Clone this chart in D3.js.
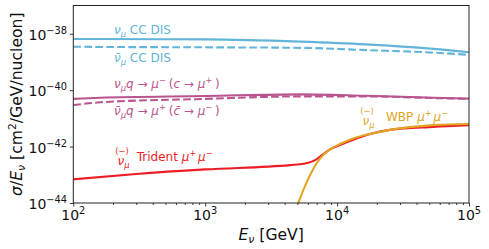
<!DOCTYPE html>
<html><head><meta charset="utf-8">
<script src="https://cdn.jsdelivr.net/npm/d3@7"></script>
<style>body{margin:0;background:#fff} text{font-family:"DejaVu Sans",sans-serif}</style>
</head><body><svg id="c" width="489" height="249"></svg>
<script>
// ---- data (sigma/E in cm^2/GeV/nucleon vs E in GeV) ----
const disEnergy  = [100, 160, 1000, 5250, 16600, 53700, 100000];
const ccNu       = [6.46e-39, 6.46e-39, 6.3e-39, 5.25e-39, 4.2e-39, 2.9e-39, 2.2e-39];
const ccNuBar    = [3.47e-39, 3.4e-39, 3.3e-39, 3.16e-39, 2.63e-39, 2.14e-39, 1.78e-39];
const charmNu    = [4.9e-41, 5.4e-41, 6.2e-41, 7.1e-41, 6.3e-41, 5.4e-41, 5.0e-41];
const charmNuBar = [2.95e-41, 3.7e-41, 4.9e-41, 6.0e-41, 6.0e-41, 5.25e-41, 4.9e-41];
const tridentEnergy = [100, 300, 1000, 4400, 5600, 6810, 7430, 8830, 10500, 14100, 17800, 25100, 53300, 100000];
const trident       = [6.9e-44, 1.07e-43, 1.55e-43, 2.2e-43, 2.45e-43, 3.3e-43, 4.4e-43, 7.9e-43, 1.14e-42, 1.95e-42, 2.8e-42, 3.9e-42, 5.0e-42, 5.75e-42];
const wbpEnergy = [4900, 5080, 5550, 6240, 7000, 7850, 9350, 10500, 14100, 18800, 25100, 53300, 100000];
const wbp       = [6.5e-45, 1e-44, 2.9e-44, 9.8e-44, 2.57e-43, 5.0e-43, 9.3e-43, 1.23e-42, 2.14e-42, 2.95e-42, 3.9e-42, 5.75e-42, 6.3e-42];
const xTicks = [1e2, 1e3, 1e4, 1e5];
const xTickExp = ['2', '3', '4', '5'];
const yTicks = [1e-44, 1e-42, 1e-40, 1e-38];
const yTickExp = ['\u221244', '\u221242', '\u221240', '\u221238'];

const C = {blue: '#62b4d9', purple: '#b9548e', red: '#ec1d25', orange: '#e1a425'};

const svg = d3.select('#c');
const L = 73.3, R = 469, T = 5.5, B = 203;
const x = d3.scaleLog().domain([1e2, 1e5]).range([L, R]);
const y = d3.scaleLog().domain([1e-44, 1e-37]).range([B, T]);

svg.append('defs').append('clipPath').attr('id', 'clip')
  .append('rect').attr('x', L).attr('y', T).attr('width', R - L).attr('height', B - T);

const line = d3.line().x(d => x(d[0])).y(d => y(d[1])).curve(d3.curveMonotoneX);
const plot = svg.append('g').attr('clip-path', 'url(#clip)');
function series(E, V, color, dash) {
  plot.append('path').datum(E.map((e, i) => [e, V[i]]))
    .attr('d', line).attr('fill', 'none').attr('stroke', color)
    .attr('stroke-width', 2.1).attr('stroke-dasharray', dash || null);
}
series(disEnergy, ccNu, C.blue);
series(disEnergy, ccNuBar, C.blue, '7.7,3.3');
series(disEnergy, charmNu, C.purple);
series(disEnergy, charmNuBar, C.purple, '7.7,3.3');
series(tridentEnergy, trident, C.red);
series(wbpEnergy, wbp, C.orange);

// ---- axes ----
const xMinor = [];
for (let d = 100; d < 1e5; d *= 10) for (let k = 2; k <= 9; k++) xMinor.push(d * k);
const gx = svg.append('g').attr('transform', `translate(0,${B})`);
gx.call(d3.axisBottom(x).tickValues(xTicks).tickSize(3.5).tickFormat(() => ''));
const gxm = svg.append('g').attr('transform', `translate(0,${B})`);
gxm.call(d3.axisBottom(x).tickValues(xMinor).tickSize(2).tickFormat(() => ''));
const gy = svg.append('g').attr('transform', `translate(${L},0)`);
gy.call(d3.axisLeft(y).tickValues(yTicks).tickSize(3.5).tickFormat(() => ''));
[gx, gxm, gy].forEach(g => { g.select('.domain').remove(); g.selectAll('line').attr('stroke', '#222').attr('stroke-width', 0.9); });

svg.append('rect').attr('x', L).attr('y', T).attr('width', R - L).attr('height', B - T)
  .attr('fill', 'none').attr('stroke', '#222').attr('stroke-width', 1);

const TF = 14;
xTicks.forEach((v, i) => {
  const t = svg.append('text').attr('x', x(v)).attr('y', 220).attr('text-anchor', 'middle')
    .attr('font-size', TF).attr('fill', '#111');
  t.append('tspan').text('10');
  t.append('tspan').attr('dy', -6).attr('font-size', TF * 0.7).text(xTickExp[i]);
});
yTicks.forEach((v, i) => {
  const t = svg.append('text').attr('x', 67).attr('y', y(v) + 6).attr('text-anchor', 'end')
    .attr('font-size', TF).attr('fill', '#111');
  t.append('tspan').text('10');
  t.append('tspan').attr('dy', -6).attr('font-size', TF * 0.7).text(yTickExp[i]);
});

// axis labels
const AF = 15.6;
const xl = svg.append('text').attr('x', (L + R) / 2).attr('y', 240).attr('text-anchor', 'middle')
  .attr('font-size', AF).attr('fill', '#111');
xl.append('tspan').attr('font-style', 'italic').text('E');
xl.append('tspan').attr('font-style', 'italic').attr('dy', 3).attr('font-size', AF * 0.7).text('\u03bd');
xl.append('tspan').attr('dy', -3).text(' [GeV]');

const yl = svg.append('text').attr('transform', `translate(22,${(T + B) / 2}) rotate(-90)`)
  .attr('text-anchor', 'middle').attr('font-size', AF).attr('fill', '#111');
yl.append('tspan').attr('font-style', 'italic').text('\u03c3');
yl.append('tspan').text('/');
yl.append('tspan').attr('font-style', 'italic').text('E');
yl.append('tspan').attr('font-style', 'italic').attr('dy', 3).attr('font-size', AF * 0.7).text('\u03bd');
yl.append('tspan').attr('dy', -3).text(' [cm');
yl.append('tspan').attr('dy', -6).attr('font-size', AF * 0.7).text('2');
yl.append('tspan').attr('dy', 6).text('/GeV/nucleon]');

// ---- annotations ----
const NF = 12;
function rich(xp, yp, color, parts) {
  const t = svg.append('text').attr('x', xp).attr('y', yp).attr('font-size', NF).attr('fill', color);
  let cur = 0;
  parts.forEach(p => {
    const target = p.sub ? 3 : p.sup ? -5 : 0;
    const s = t.append('tspan').attr('dy', target - cur).text(p.t);
    cur = target;
    if (p.sub || p.sup) s.attr('font-size', NF * 0.7);
    if (p.i) s.attr('font-style', 'italic');
  });
  return t;
}
rich(114, 34, C.blue, [{t: '\u03bd', i: 1}, {t: '\u03bc', i: 1, sub: 1}, {t: ' CC DIS'}]);
rich(114, 62, C.blue, [{t: '\u03bd\u0304', i: 1}, {t: '\u03bc', i: 1, sub: 1}, {t: ' CC DIS'}]);
rich(114, 88, C.purple, [{t: '\u03bd', i: 1}, {t: '\u03bc', i: 1, sub: 1}, {t: 'q', i: 1}, {t: ' \u2192 '},
  {t: '\u03bc', i: 1}, {t: '\u2212 ', sup: 1}, {t: '('}, {t: 'c', i: 1}, {t: ' \u2192 '}, {t: '\u03bc', i: 1}, {t: '+ ', sup: 1}, {t: ')'}]);
rich(114, 115, C.purple, [{t: '\u03bd\u0304', i: 1}, {t: '\u03bc', i: 1, sub: 1}, {t: 'q', i: 1}, {t: ' \u2192 '},
  {t: '\u03bc', i: 1}, {t: '+ ', sup: 1}, {t: '('}, {t: 'c\u0304', i: 1}, {t: ' \u2192 '}, {t: '\u03bc', i: 1}, {t: '\u2212 ', sup: 1}, {t: ')'}]);

function overNu(xp, yp, xr, color, rest) {
  svg.append('text').attr('x', xp + 4.5).attr('y', yp - 7.5).attr('text-anchor', 'middle')
    .attr('font-size', NF * 0.7).attr('fill', color).text('(\u2212)');
  rich(xp, yp + 4, color, [{t: '\u03bd', i: 1}, {t: '\u03bc', i: 1, sub: 1}]);
  rich(xr, yp, color, rest);
}
const muPair = [{t: '\u03bc', i: 1}, {t: '+\u2009', sup: 1}, {t: '\u03bc', i: 1}, {t: '\u2212', sup: 1}];
overNu(117.5, 161, 136.7, C.red, [{t: 'Trident '}].concat(muPair));
overNu(362.5, 121, 386, C.orange, [{t: 'WBP '}].concat(muPair));
</script></body></html>
